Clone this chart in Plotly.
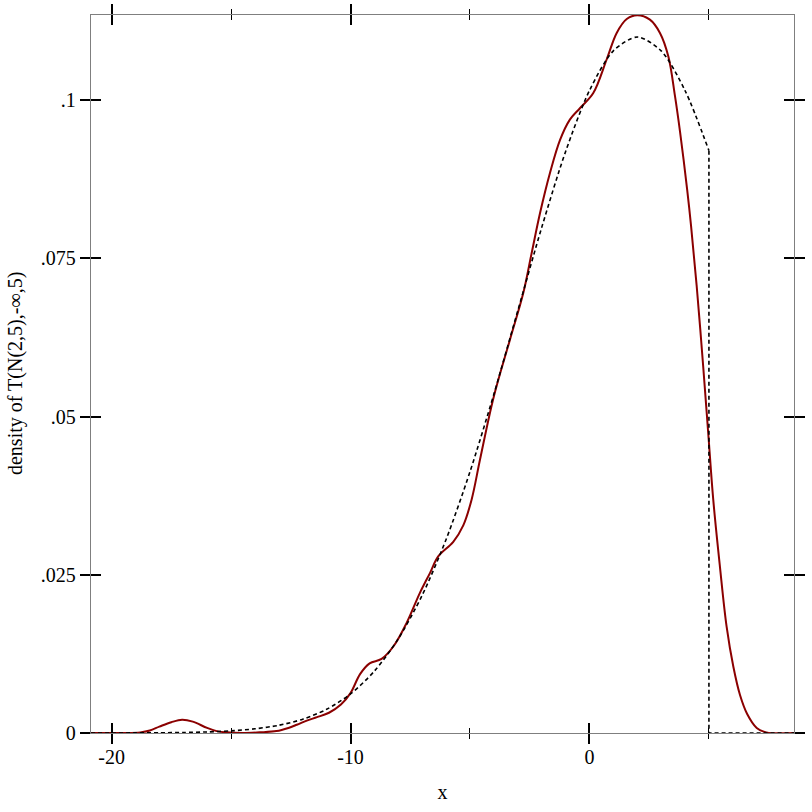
import plotly.graph_objects as go

# ---- data ----
# sampled density (solid dark red)
kde_x = [-20.86, -19.5, -18.8, -18.4, -18.0, -17.5, -17.05, -16.6, -16.0, -15.6, -15.2,
         -14.5, -13.8, -13.1, -12.6, -12.25, -11.8, -11.4, -10.9, -10.4, -10.0, -9.6,
         -9.2, -8.7, -8.2, -7.65, -7.1, -6.67, -6.33, -5.7, -5.28, -4.93, -4.58, -4.02,
         -3.33, -2.77, -2.42, -2.07, -1.65, -1.23, -0.82, -0.4, 0.16, 0.72, 1.14, 1.56,
         2.0, 2.53, 2.95, 3.30, 3.58, 3.79, 4.09, 4.25, 4.49, 4.76, 4.97, 5.18, 5.46,
         5.74, 6.02, 6.30, 6.6, 7.0, 7.4, 8.56]
kde_y = [0.0, 0.0, 0.0001, 0.0004, 0.0010, 0.0017, 0.0021, 0.0018, 0.0008, 0.0003, 0.0001,
         0.0, 0.0001, 0.0003, 0.0008, 0.0013, 0.0020, 0.0025, 0.0032, 0.0045, 0.0063, 0.0093,
         0.0110, 0.0117, 0.0137, 0.0174, 0.0221, 0.0253, 0.0279, 0.0302, 0.0328, 0.0369, 0.0432, 0.0529,
         0.0621, 0.0695, 0.0758, 0.0821, 0.0885, 0.0937, 0.0969, 0.0987, 0.1011, 0.1064, 0.1106, 0.1128,
         0.1134, 0.1127, 0.1106, 0.1069, 0.1006, 0.0950, 0.0858, 0.0802, 0.0705, 0.0579, 0.0474, 0.0369, 0.0263,
         0.0168, 0.0105, 0.0060, 0.0030, 0.0008, 0.0001, 0.0]

# exact density (dotted black), curve part and tail part
pdf_x = [-20.86, -20, -19, -18, -17, -16, -15, -14, -13, -12, -11, -10, -9, -8, -7, -6,
         -5, -4, -3, -2, -1, 0, 1, 2, 3, 4, 5]
pdf_y = [0.000004, 0.000007, 0.000016, 0.000037, 0.00008, 0.000168, 0.00034, 0.00066,
         0.00122, 0.00218, 0.00374, 0.00617, 0.00978, 0.01488, 0.02176, 0.03057,
         0.04127, 0.05352, 0.06669, 0.07984, 0.09184, 0.10150, 0.10777, 0.10995,
         0.10777, 0.10150, 0.09200]
tail_x = [5, 5, 8.56]
tail_y = [0.09200, 0.0, 0.0]

x_tickvals = [-20, -10, 0]
x_ticktext = ["-20", "-10", "0"]
x_minorvals = [-15, -5, 5]
y_tickvals = [0, 0.025, 0.05, 0.075, 0.1]
y_ticktext = ["0", ".025", ".05", ".075", ".1"]
y_title = "density of T(N(2,5),-∞,5)"

x_range = [-20.86, 8.56]
y_range = [0, 0.11343]

FONT = "Liberation Serif, Times New Roman, serif"
DARKRED = "#8b0000"
FRAME = "#7f7f7f"
FS = 20

fig = go.Figure()
# dotted exact density on (x2, y) so the inside-tick x axis is drawn
fig.add_trace(go.Scatter(x=pdf_x, y=pdf_y, mode="lines", xaxis="x2", yaxis="y",
                         line=dict(color="black", width=1.6, dash="4px,3px", shape="spline", smoothing=0.8),
                         hoverinfo="skip", showlegend=False))
# tail on (x, y2) so the inside-tick y axis is drawn
fig.add_trace(go.Scatter(x=tail_x, y=tail_y, mode="lines", xaxis="x", yaxis="y2",
                         line=dict(color="black", width=1.6, dash="4px,3px"),
                         hoverinfo="skip", showlegend=False))
fig.add_trace(go.Scatter(x=kde_x, y=kde_y, mode="lines", xaxis="x", yaxis="y",
                         line=dict(color=DARKRED, width=2, shape="spline", smoothing=1.0),
                         hoverinfo="skip", showlegend=False))

common_x = dict(range=x_range, showgrid=False, zeroline=False, tickmode="array",
                tickvals=x_tickvals, ticklen=10, tickwidth=2, tickcolor="black",
                automargin=False)
common_y = dict(range=y_range, showgrid=False, zeroline=False, tickmode="array",
                tickvals=y_tickvals, ticklen=10, tickwidth=2, tickcolor="black",
                automargin=False)

fig.update_layout(
    width=812, height=812,
    margin=dict(l=91, r=18, t=15, b=79),
    paper_bgcolor="white", plot_bgcolor="white",
    font=dict(family=FONT, size=FS, color="black"),
    xaxis=dict(**common_x, ticktext=x_ticktext, ticks="outside", mirror="ticks",
               showline=True, linecolor=FRAME, linewidth=1.3, ticklabelstandoff=-4,
               minor=dict(tickmode="array", tickvals=x_minorvals, ticklen=5, tickwidth=1,
                          tickcolor="black", ticks="outside"),
               title=dict(text="x", font=dict(family=FONT, size=FS), standoff=17)),
    xaxis2=dict(**common_x, overlaying="x", matches="x", anchor="y", side="bottom",
                ticks="inside", mirror="ticks", showline=False, showticklabels=False,
                minor=dict(tickmode="array", tickvals=x_minorvals, ticklen=5, tickwidth=1,
                           tickcolor="black", ticks="inside")),
    yaxis=dict(**common_y, ticktext=y_ticktext, ticks="outside", mirror="ticks",
               showline=True, linecolor=FRAME, linewidth=1.3),
    yaxis2=dict(**common_y, overlaying="y", matches="y", anchor="x", side="left",
                ticks="inside", mirror="ticks", showline=False, showticklabels=False),
    annotations=[dict(text=y_title, xref="paper", yref="paper", x=-0.1081, y=0.5,
                      xanchor="center", yanchor="middle", textangle=-90, showarrow=False,
                      font=dict(family=FONT, size=FS, color="black"))],
)

# remove the browser's default 8px body margin so the 812x812 figure fills the window
fig.write_html("out.html",
               config={"displayModeBar": False, "staticPlot": True},
               post_script="document.body.style.margin='0';document.body.style.overflow='hidden';")
